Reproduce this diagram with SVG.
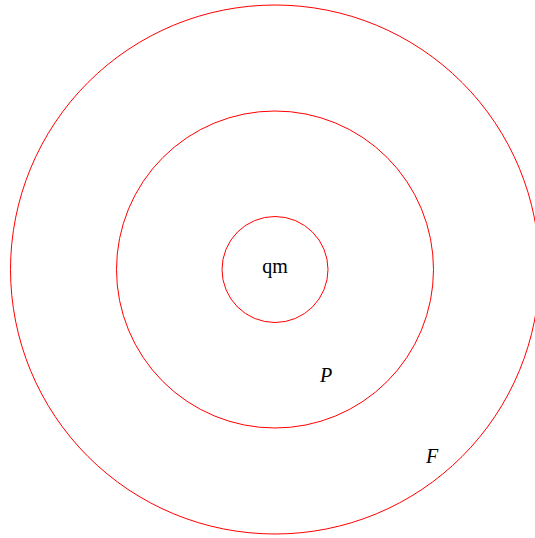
<svg xmlns="http://www.w3.org/2000/svg" width="535" height="538" viewBox="0 0 535 538">
<style>
.ring{fill:none;stroke:#ff0000;stroke-width:1}
.t{font-family:"Liberation Serif","Times New Roman",serif;font-size:20px;fill:#000}
.i{font-style:italic}
</style>
<rect width="535" height="538" fill="#fff"/>
<g id="outer"><circle class="ring" cx="275" cy="269.5" r="264.5"/><text class="t i" x="426" y="463">F</text></g>
<g id="middle"><circle class="ring" cx="275" cy="269.5" r="158.5"/><text class="t i" x="320" y="382">P</text></g>
<g id="inner"><circle class="ring" cx="275" cy="269.5" r="53"/><text class="t" x="275" y="273" text-anchor="middle">qm</text></g>
<g id="connectors"/>
</svg>
